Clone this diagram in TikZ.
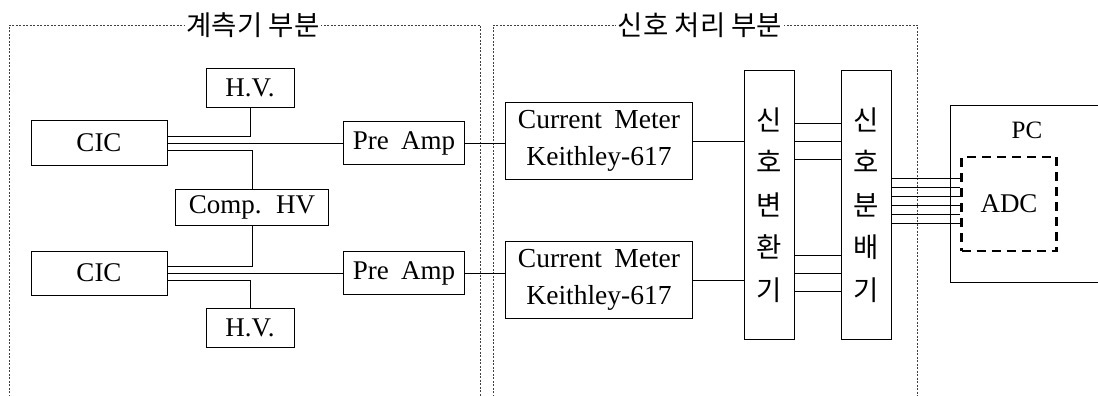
\documentclass[tikz,border=0pt]{standalone}
\usepackage{fontspec}
\setmainfont{Liberation Serif}[WordSpace=1.8]
\newfontfamily\kr{Noto Sans CJK KR}
\usetikzlibrary{positioning, calc}

\begin{document}
\begin{tikzpicture}[x=1pt, y=-1pt,
  box/.style={draw, line width=1pt, inner sep=0pt, font=\fontsize{27}{30}\selectfont},
  wire/.style={line width=0.9pt},
  frame/.style={draw=black!75, line width=0.8pt, dash pattern=on 2pt off 1.5pt},
  title/.style={fill=white, inner sep=2pt, font=\kr\fontsize{27.5}{30}\selectfont},
  vbox/.style={draw, line width=1pt, inner sep=0pt, minimum width=50, minimum height=269,
    align=center, font=\kr\fontsize{27.5}{42.5}\selectfont}
]
  \def\gap{7}
  \useasboundingbox (0,0) rectangle (1098,396);

  % Frames: measuring part / signal processing part
  \draw[frame] (9,400) |- (480,25) -- (480,400);
  \node[title] (measT) at (253,25) {계측기 부분};
  \draw[frame] (493,400) |- (917,25) -- (917,400);
  \node[title] (procT) at (700,25) {신호 처리 부분};

  % Chamber A
  \node[box, minimum width=136, minimum height=45] (cicA) at (99,143) {CIC};
  \node[box, minimum width=88, minimum height=39] (hvA) at (250,88) {H.V.};
  \node[box, minimum width=121, minimum height=43] (preA) at (404,143) {Pre Amp};

  % Compensation HV, shared
  \node[box, minimum width=153, minimum height=36] (comp) at (252,207) {Comp. HV};

  % Chamber B
  \node[box, minimum width=136, minimum height=44] (cicB) at (99,273) {CIC};
  \node[box, minimum width=88, minimum height=39] (hvB) at (250,328) {H.V.};
  \node[box, minimum width=121, minimum height=43] (preB) at (404,273) {Pre Amp};

  % Current meters
  \node[box, minimum width=187, minimum height=77, align=center,
    font=\fontsize{27.5}{37}\selectfont] (cmA) at (599,141) {Current Meter\\Keithley-617};
  \node[box, minimum width=187, minimum height=77, align=center,
    font=\fontsize{27.5}{37}\selectfont] (cmB) at (599,280) {Current Meter\\Keithley-617};

  % Converter and distributor
  \node[vbox] (conv) at (769,205) {신\\호\\변\\환\\기};
  \node[vbox] (dist) at (866,205) {신\\호\\분\\배\\기};

  % PC with ADC
  \node[box, minimum width=159, minimum height=177] (pc) at (1030,194) {};
  \node[font=\fontsize{25}{28}\selectfont] (pcT) at (1027,130) {PC};
  \node[draw, line width=2.4pt, dash pattern=on 9pt off 6pt, minimum width=95, minimum height=94,
    inner sep=0pt, font=\fontsize{27}{30}\selectfont] (adc) at (1009,204) {ADC};

  % Wires, chamber A
  \draw[wire] ($(cicA.east)+(0,-\gap)$) -| (hvA.south);
  \draw[wire] (cicA.east) -- (preA.west);
  \draw[wire] ($(cicA.east)+(0,\gap)$) -| (comp.north);
  \draw[wire] (preA.east) -- (preA.east -| cmA.west);

  % Wires, chamber B
  \draw[wire] ($(cicB.east)+(0,-\gap)$) -| (comp.south);
  \draw[wire] (cicB.east) -- (preB.west);
  \draw[wire] ($(cicB.east)+(0,\gap)$) -| (hvB.north);
  \draw[wire] (preB.east) -- (preB.east -| cmB.west);

  \draw[wire] (cmA.east) -- (cmA.east -| conv.west);
  \draw[wire] (cmB.east) -- (cmB.east -| conv.west);

  \foreach \dy in {-82,-64,-46,50,68,86}
    \draw[wire] ($(conv.east)+(0,\dy)$) -- ($(dist.west)+(0,\dy)$);

  \foreach \dy in {-27,-18,...,18}
    \draw[wire] ($(dist.east)+(0,\dy)$) coordinate (w) -- (w -| adc.west);
\end{tikzpicture}
\end{document}
